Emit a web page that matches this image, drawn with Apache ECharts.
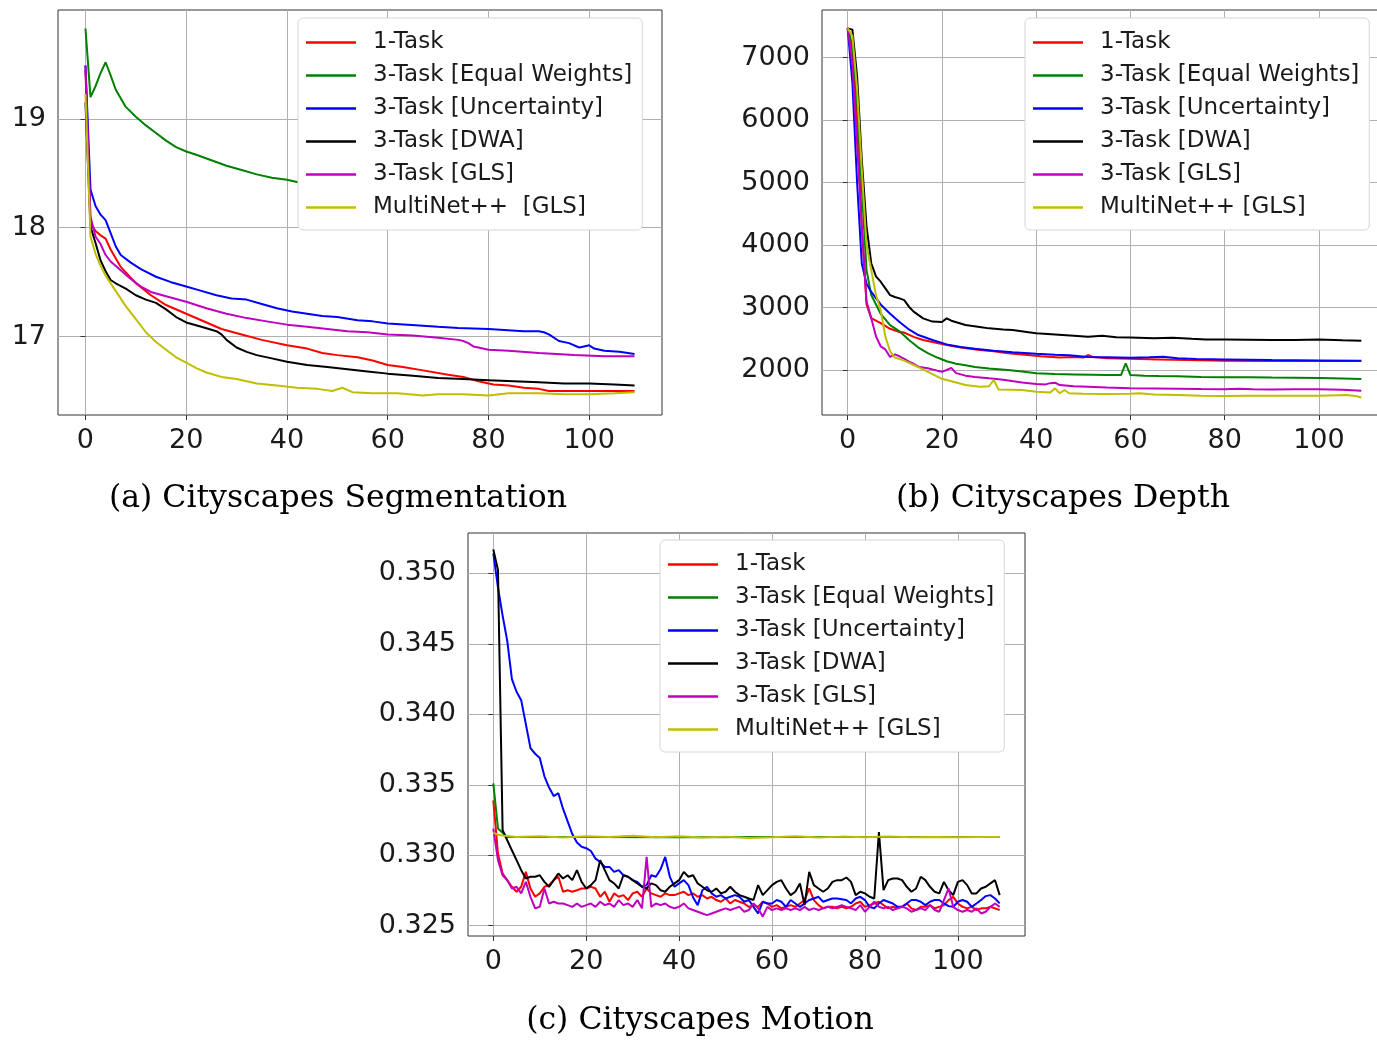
<!DOCTYPE html>
<html>
<head>
<meta charset="utf-8">
<script src="https://cdn.jsdelivr.net/npm/echarts@6/dist/echarts.min.js"></script>
<style>
  html, body { margin: 0; padding: 0; background: #fff; }
  #main { width: 1377px; height: 1042px; }
</style>
</head>
<body>
<div id="main"></div>
<script>
// legend names and colours (matplotlib r, g, b, k, m, y)
const names = ["1-Task", "3-Task [Equal Weights]", "3-Task [Uncertainty]", "3-Task [DWA]", "3-Task [GLS]", "MultiNet++ [GLS]"];
const namesSeg = ["1-Task", "3-Task [Equal Weights]", "3-Task [Uncertainty]", "3-Task [DWA]", "3-Task [GLS]", "MultiNet++  [GLS]"];
const colors = ["#ff0000", "#008000", "#0000ff", "#000000", "#bf00bf", "#bfbf00"];

const xTicks = [0, 20, 40, 60, 80, 100];
const segTicks = [17, 18, 19];
const depthTicks = [2000, 3000, 4000, 5000, 6000, 7000];
const motionTicks = [0.325, 0.33, 0.335, 0.34, 0.345, 0.35];

// (a) segmentation, [epoch, value]
const segOneTask = [[0,19.45],[1,18.04],[2,17.97],[3,17.93],[4,17.90],[5,17.80],[7,17.64],[10,17.49],[13,17.38],[16,17.29],[20,17.21],[23,17.15],[27,17.07],[31,17.02],[35,16.97],[40,16.92],[44,16.89],[47,16.85],[50,16.83],[54,16.81],[57,16.78],[60,16.74],[63,16.72],[67,16.69],[72,16.65],[75,16.63],[78,16.59],[81,16.56],[84,16.55],[87,16.53],[90,16.52],[92,16.50],[100,16.50],[109,16.50]];
const segEqual = [[0,19.83],[1,19.20],[2,19.30],[3,19.42],[4,19.52],[5,19.40],[6,19.27],[8,19.11],[10,19.02],[12,18.94],[14,18.87],[16,18.80],[18,18.74],[20,18.70],[22,18.67],[25,18.62],[28,18.57],[31,18.53],[34,18.49],[37,18.46],[40,18.44],[42,18.42],[50,18.38],[60,18.32],[70,18.27],[80,18.23],[90,18.20],[100,18.18],[109,18.16]];
const segUncert = [[0,19.49],[1,18.35],[2,18.20],[3,18.12],[4,18.07],[5,17.95],[6,17.83],[7,17.75],[9,17.68],[11,17.62],[14,17.55],[17,17.50],[20,17.46],[23,17.42],[26,17.38],[29,17.35],[32,17.34],[35,17.30],[38,17.26],[41,17.23],[44,17.21],[47,17.19],[50,17.18],[54,17.15],[57,17.14],[60,17.12],[64,17.11],[67,17.10],[70,17.09],[74,17.08],[80,17.07],[87,17.05],[90,17.05],[91,17.04],[92,17.02],[94,16.96],[96,16.94],[98,16.90],[99,16.91],[100,16.92],[101,16.89],[103,16.87],[106,16.86],[109,16.84]];
const segDwa = [[0,19.15],[1,18.01],[2,17.86],[3,17.70],[4,17.60],[5,17.52],[6,17.49],[8,17.44],[10,17.38],[12,17.34],[14,17.31],[16,17.25],[18,17.18],[20,17.13],[23,17.09],[26,17.05],[27,17.02],[28,16.97],[30,16.90],[32,16.86],[34,16.83],[37,16.80],[40,16.77],[44,16.74],[48,16.72],[52,16.70],[56,16.68],[60,16.66],[65,16.64],[70,16.62],[75,16.61],[80,16.60],[85,16.59],[90,16.58],[95,16.57],[100,16.57],[105,16.56],[109,16.55]];
const segGls = [[0,19.49],[1,18.10],[2,17.92],[3,17.85],[4,17.75],[5,17.69],[7,17.61],[9,17.53],[11,17.46],[13,17.41],[16,17.37],[20,17.32],[24,17.26],[28,17.21],[32,17.17],[36,17.14],[40,17.11],[44,17.09],[48,17.07],[52,17.05],[56,17.04],[60,17.02],[65,17.01],[70,16.99],[74,16.97],[75,16.96],[76,16.94],[77,16.91],[78,16.90],[80,16.88],[84,16.87],[90,16.85],[97,16.83],[103,16.82],[109,16.82]];
const segMultiNet = [[0,19.23],[1,17.92],[2,17.76],[3,17.65],[4,17.56],[6,17.42],[8,17.28],[10,17.16],[12,17.04],[14,16.95],[16,16.88],[18,16.81],[20,16.76],[22,16.71],[24,16.67],[27,16.63],[30,16.61],[34,16.57],[38,16.55],[42,16.53],[46,16.52],[49,16.50],[51,16.53],[53,16.49],[57,16.48],[62,16.48],[67,16.46],[70,16.47],[75,16.47],[80,16.46],[84,16.48],[90,16.48],[95,16.47],[100,16.47],[105,16.48],[109,16.49]];

// (b) depth, [epoch, value]
const depthOneTask = [[0,7470],[1,7100],[2,6000],[3,4300],[4,3050],[5,2830],[7,2750],[9,2660],[11,2610],[12,2600],[14,2530],[16,2480],[18,2450],[21,2400],[24,2360],[28,2320],[31,2300],[34,2270],[37,2250],[41,2220],[45,2200],[48,2210],[50,2200],[51,2240],[52,2210],[55,2190],[60,2180],[66,2170],[72,2160],[80,2150],[90,2145],[100,2145],[109,2145]];
const depthEqual = [[0,7470],[1,7200],[2,6300],[3,4900],[4,3600],[5,3200],[7,2900],[9,2720],[11,2620],[13,2480],[15,2360],[17,2270],[19,2200],[21,2140],[23,2100],[25,2075],[27,2050],[30,2025],[34,2000],[37,1975],[40,1950],[44,1935],[48,1930],[52,1925],[55,1920],[58,1920],[59,2106],[60,1920],[63,1910],[66,1904],[70,1900],[75,1890],[80,1883],[85,1885],[90,1880],[95,1878],[100,1872],[105,1865],[109,1856]];
const depthUncert = [[0,7470],[1,6600],[2,5000],[3,3700],[4,3380],[5,3250],[7,3050],[9,2900],[11,2770],[13,2650],[15,2560],[18,2480],[21,2410],[24,2370],[27,2340],[31,2310],[35,2285],[40,2260],[44,2245],[47,2235],[51,2210],[55,2205],[60,2197],[64,2205],[67,2213],[70,2190],[74,2176],[80,2170],[90,2160],[100,2154],[109,2149]];
const depthDwa = [[0,7470],[1,7450],[2,6700],[3,5360],[4,4300],[5,3710],[6,3500],[7,3414],[8,3307],[9,3200],[10,3170],[11,3147],[12,3120],[13,3014],[14,2934],[16,2827],[18,2775],[20,2770],[21,2827],[22,2790],[25,2720],[28,2690],[30,2667],[33,2650],[35,2640],[38,2610],[40,2587],[44,2569],[48,2550],[51,2532],[54,2548],[57,2525],[60,2521],[65,2510],[69,2516],[73,2500],[76,2489],[80,2489],[85,2485],[90,2479],[95,2480],[100,2489],[105,2475],[109,2468]];
const depthGls = [[0,7470],[1,6900],[2,5600],[3,4300],[4,3100],[5,2830],[6,2540],[7,2380],[8,2330],[9,2210],[10,2250],[11,2220],[12,2180],[13,2133],[14,2100],[15,2053],[17,2027],[19,1990],[20,1973],[21,2000],[22,2035],[23,1950],[25,1910],[27,1890],[30,1867],[33,1845],[37,1800],[40,1776],[42,1770],[43,1790],[44,1798],[45,1760],[48,1740],[51,1734],[55,1720],[60,1707],[65,1705],[70,1700],[75,1695],[80,1691],[83,1700],[86,1691],[90,1690],[95,1692],[100,1691],[105,1685],[109,1670]];
const depthMultiNet = [[0,7470],[1,7350],[2,6500],[3,5200],[4,4000],[5,3600],[6,3200],[7,2960],[8,2534],[9,2300],[10,2200],[12,2150],[14,2080],[16,2010],[18,1935],[20,1860],[22,1820],[25,1760],[28,1733],[30,1740],[31,1840],[32,1690],[35,1685],[37,1680],[40,1653],[43,1640],[44,1707],[45,1628],[46,1681],[47,1628],[50,1620],[55,1617],[60,1620],[62,1628],[65,1610],[70,1600],[75,1590],[80,1585],[85,1590],[90,1588],[95,1590],[100,1590],[106,1601],[108,1580],[109,1559]];

// (c) motion, one value per epoch 0..109
const motionOneTask = [
  0.33389,0.33012,0.32870,0.32823,0.32776,0.32741,0.32776,0.32882,0.32764,0.32705,
  0.32729,0.32776,0.32788,0.32823,0.32847,0.32741,0.32752,0.32741,0.32752,0.32764,
  0.32764,0.32776,0.32764,0.32705,0.32741,0.32670,0.32729,0.32705,0.32717,0.32682,
  0.32729,0.32741,0.32705,0.32764,0.32729,0.32717,0.32705,0.32729,0.32717,0.32717,
  0.32729,0.32741,0.32717,0.32729,0.32705,0.32717,0.32693,0.32705,0.32682,0.32670,
  0.32693,0.32658,0.32682,0.32670,0.32658,0.32634,0.32646,0.32634,0.32670,0.32658,
  0.32634,0.32646,0.32623,0.32634,0.32646,0.32634,0.32658,0.32682,0.32764,0.32682,
  0.32646,0.32623,0.32634,0.32634,0.32623,0.32634,0.32623,0.32634,0.32658,0.32670,
  0.32634,0.32646,0.32658,0.32670,0.32646,0.32623,0.32634,0.32623,0.32634,0.32658,
  0.32623,0.32611,0.32634,0.32634,0.32646,0.32623,0.32634,0.32646,0.32682,0.32705,
  0.32658,0.32634,0.32623,0.32634,0.32611,0.32623,0.32623,0.32634,0.32623,0.32611];
const motionEqual = [[0,0.3351],[1,0.3319],[2,0.3316],[3,0.3313],[20,0.3313],[40,0.33128],[60,0.3313],[80,0.3313],[100,0.3313],[109,0.3313]];
const motionUncert = [
  0.35142,0.34900,0.34700,0.34520,0.34250,0.34160,0.34100,0.33930,0.33760,0.33720,
  0.33690,0.33560,0.33480,0.33420,0.33440,0.33330,0.33240,0.33150,0.33090,0.33060,
  0.33050,0.33030,0.32976,0.32953,0.32917,0.32917,0.32882,0.32894,0.32858,0.32847,
  0.32823,0.32811,0.32776,0.32788,0.32858,0.32847,0.32900,0.32988,0.32847,0.32776,
  0.32800,0.32823,0.32788,0.32700,0.32646,0.32752,0.32776,0.32729,0.32705,0.32717,
  0.32693,0.32705,0.32717,0.32705,0.32670,0.32682,0.32634,0.32587,0.32670,0.32658,
  0.32658,0.32682,0.32670,0.32634,0.32682,0.32658,0.32634,0.32658,0.32682,0.32693,
  0.32705,0.32670,0.32682,0.32693,0.32693,0.32688,0.32682,0.32658,0.32693,0.32705,
  0.32682,0.32634,0.32623,0.32658,0.32682,0.32670,0.32658,0.32634,0.32634,0.32658,
  0.32682,0.32682,0.32670,0.32646,0.32670,0.32682,0.32682,0.32658,0.32639,0.32634,
  0.32670,0.32682,0.32670,0.32634,0.32658,0.32682,0.32710,0.32717,0.32693,0.32658];
const motionDwa = [
  0.35170,0.35024,0.33177,0.33106,0.33035,0.32965,0.32894,0.32835,0.32847,0.32847,
  0.32858,0.32811,0.32776,0.32823,0.32870,0.32835,0.32858,0.32823,0.32894,0.32811,
  0.32764,0.32788,0.32823,0.32965,0.32894,0.32823,0.32800,0.32764,0.32858,0.32847,
  0.32823,0.32800,0.32776,0.32764,0.32800,0.32788,0.32752,0.32741,0.32776,0.32800,
  0.32823,0.32882,0.32847,0.32858,0.32800,0.32776,0.32752,0.32741,0.32764,0.32729,
  0.32741,0.32776,0.32741,0.32717,0.32705,0.32693,0.32682,0.32788,0.32717,0.32752,
  0.32788,0.32811,0.32823,0.32764,0.32717,0.32741,0.32800,0.32646,0.32882,0.32788,
  0.32764,0.32741,0.32764,0.32811,0.32823,0.32823,0.32842,0.32811,0.32717,0.32741,
  0.32729,0.32705,0.32693,0.33165,0.32752,0.32823,0.32835,0.32835,0.32823,0.32776,
  0.32741,0.32764,0.32847,0.32823,0.32776,0.32741,0.32729,0.32811,0.32752,0.32717,
  0.32811,0.32823,0.32788,0.32729,0.32729,0.32764,0.32776,0.32800,0.32823,0.32717];
const motionGls = [
  0.33189,0.32965,0.32858,0.32823,0.32764,0.32776,0.32729,0.32811,0.32705,0.32623,
  0.32634,0.32764,0.32658,0.32670,0.32658,0.32658,0.32646,0.32634,0.32658,0.32634,
  0.32646,0.32658,0.32634,0.32670,0.32646,0.32658,0.32634,0.32682,0.32646,0.32658,
  0.32634,0.32682,0.32623,0.32988,0.32634,0.32658,0.32646,0.32658,0.32634,0.32623,
  0.32634,0.32658,0.32623,0.32611,0.32599,0.32587,0.32575,0.32587,0.32599,0.32611,
  0.32623,0.32611,0.32623,0.32634,0.32599,0.32611,0.32658,0.32623,0.32564,0.32634,
  0.32611,0.32623,0.32611,0.32623,0.32611,0.32623,0.32611,0.32634,0.32611,0.32623,
  0.32611,0.32623,0.32634,0.32623,0.32634,0.32646,0.32634,0.32623,0.32611,0.32646,
  0.32599,0.32634,0.32670,0.32634,0.32623,0.32634,0.32611,0.32623,0.32634,0.32623,
  0.32599,0.32611,0.32623,0.32611,0.32646,0.32611,0.32599,0.32682,0.32764,0.32634,
  0.32611,0.32599,0.32611,0.32599,0.32623,0.32587,0.32599,0.32634,0.32658,0.32634];
const motionMultiNet = [[0,0.3316],[1,0.33145],[2,0.3314],[5,0.3313],[10,0.33135],[15,0.33125],[20,0.33135],[25,0.3313],[30,0.33138],[35,0.33128],[40,0.33135],[45,0.33125],[50,0.33132],[55,0.33122],[60,0.33128],[65,0.33135],[70,0.33125],[75,0.33132],[80,0.33128],[85,0.33132],[90,0.33128],[95,0.3313],[100,0.33128],[105,0.3313],[109,0.3313]];

const perEpoch = arr => arr.map((v, i) => [i, v]);

const chart = echarts.init(document.getElementById("main"));

const labelStyle = { fontSize: 27, fontFamily: "DejaVu Sans", color: "#1a1a1a", margin: 12 };
const splitStyle = { show: true, lineStyle: { color: "#b0b0b0", width: 1 } };

function xAxis(gi) {
  return {
    type: "value", gridIndex: gi, min: -5.45, max: 114.45,
    axisLine: { show: false },
    axisTick: { show: true, length: 5, lineStyle: { color: "#333" }, customValues: xTicks },
    axisLabel: Object.assign({ customValues: xTicks }, labelStyle),
    splitLine: splitStyle
  };
}
function yAxis(gi, min, max, ticks, fmt) {
  return {
    type: "value", gridIndex: gi, min: min, max: max,
    axisLine: { show: false },
    axisTick: { show: true, length: 5, lineStyle: { color: "#333" }, customValues: ticks },
    axisLabel: Object.assign({ customValues: ticks, formatter: fmt }, labelStyle),
    splitLine: splitStyle
  };
}
function legend(left, top, data) {
  return {
    left: left, top: top, orient: "vertical", data: data, selectedMode: false,
    zlevel: 1, z: 10,
    icon: "rect", itemWidth: 50, itemHeight: 2.5, itemGap: 10,
    padding: [13, 10, 11, 8],
    backgroundColor: "#ffffff", borderColor: "#d6d6d6", borderWidth: 1, borderRadius: 5,
    textStyle: { fontSize: 23, fontFamily: "DejaVu Sans", color: "#1a1a1a", lineHeight: 23, padding: [0, 0, 0, 12] }
  };
}
function line(name, data, color, gi) {
  return {
    type: "line", name: name, data: data, xAxisIndex: gi, yAxisIndex: gi,
    symbol: "none", showSymbol: false, animation: false,
    lineStyle: { width: 2, color: color }, itemStyle: { color: color }
  };
}

const segData = [segOneTask, segEqual, segUncert, segDwa, segGls, segMultiNet];
const depthData = [depthOneTask, depthEqual, depthUncert, depthDwa, depthGls, depthMultiNet];
const motionData = [perEpoch(motionOneTask), motionEqual, perEpoch(motionUncert), perEpoch(motionDwa), perEpoch(motionGls), motionMultiNet];

const series = [];
segData.forEach((d, i) => series.push(line(namesSeg[i], d, colors[i], 0)));
depthData.forEach((d, i) => series.push(line(names[i], d, colors[i], 1)));
motionData.forEach((d, i) => series.push(line(names[i], d, colors[i], 2)));

const frame = { show: true, borderColor: "#333", borderWidth: 1, backgroundColor: "#fff", containLabel: false, outerBoundsMode: "none" };

const option = {
  backgroundColor: "#fff",
  animation: false,
  grid: [
    Object.assign({ left: 58, top: 10, width: 604, height: 405 }, frame),
    // the depth panel runs past the right edge of the figure, as in the source
    Object.assign({ left: 822, top: 10, width: 565, height: 405 }, frame),
    Object.assign({ left: 468, top: 533, width: 557, height: 403 }, frame)
  ],
  xAxis: [xAxis(0), xAxis(1), xAxis(2)],
  yAxis: [
    yAxis(0, 16.28, 20.0, segTicks, v => String(Math.round(v))),
    yAxis(1, 1280, 7764, depthTicks, v => String(Math.round(v))),
    yAxis(2, 0.32427, 0.35286, motionTicks, v => v.toFixed(3))
  ],
  legend: [legend(298, 18, namesSeg), legend(1025, 18, names), legend(660, 540, names)],
  graphic: [
    { type: "text", x: 338, y: 499, style: { text: "(a) Cityscapes Segmentation", fontSize: 31.5, fontFamily: "DejaVu Serif", fill: "#000", align: "center", verticalAlign: "middle" } },
    { type: "text", x: 1063, y: 499, style: { text: "(b) Cityscapes Depth", fontSize: 31.5, fontFamily: "DejaVu Serif", fill: "#000", align: "center", verticalAlign: "middle" } },
    { type: "text", x: 700, y: 1021, style: { text: "(c) Cityscapes Motion", fontSize: 31.5, fontFamily: "DejaVu Serif", fill: "#000", align: "center", verticalAlign: "middle" } }
  ],
  series: series
};
chart.setOption(option);
</script>
</body>
</html>
